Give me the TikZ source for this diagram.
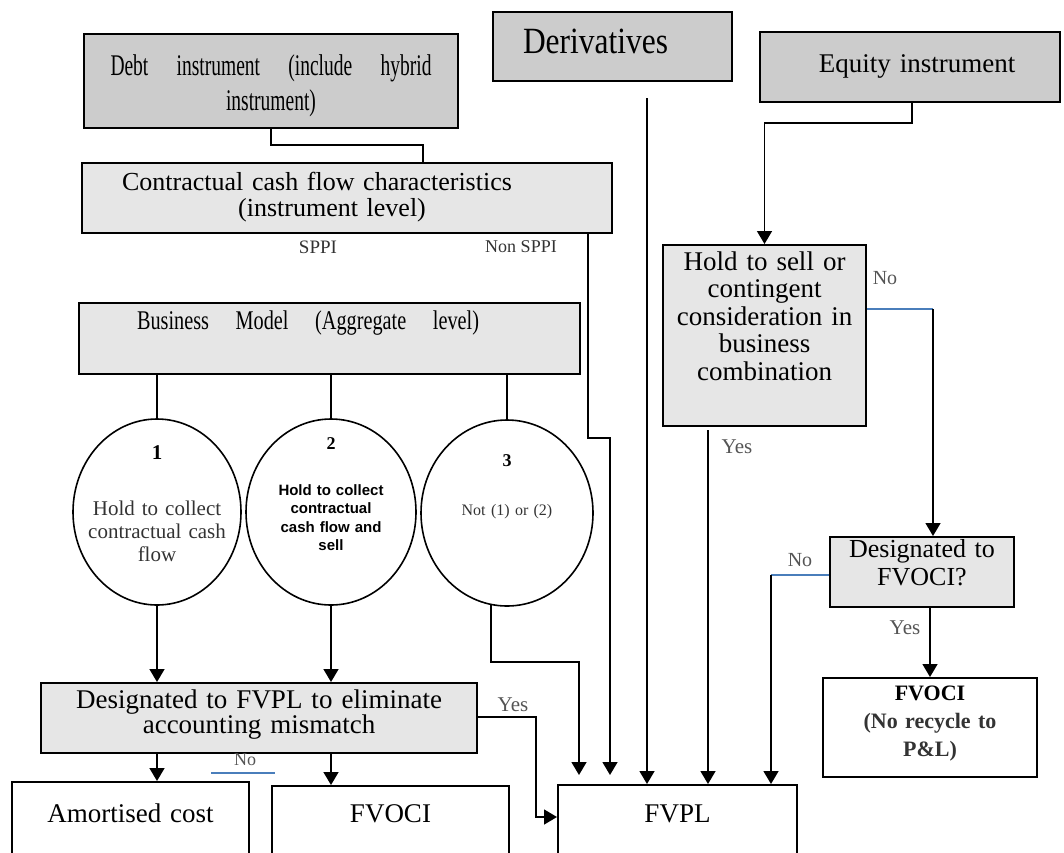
\documentclass[tikz,border=0pt]{standalone}
\usepackage{fontspec}
\usepackage{tikz}
\usetikzlibrary{arrows.meta,shapes.geometric}
\setmainfont{Liberation Serif}
\setsansfont{Liberation Sans}
\newfontfamily\narrowfont[FakeStretch=0.65]{Liberation Serif}
\newfontfamily\bizfont[FakeStretch=0.75]{Liberation Serif}
\newfontfamily\derivfont[FakeStretch=0.85]{Liberation Serif}
\newcommand{\setfs}[2]{\fontsize{#1pt}{#2pt}\selectfont}
\newcommand{\zw}[1]{\makebox[0pt]{#1}}
\definecolor{darkfill}{HTML}{CCCCCC}
\definecolor{lightfill}{HTML}{E6E6E6}
\definecolor{bluecol}{HTML}{4A7EBB}
\definecolor{labelgray}{HTML}{555555}
\definecolor{textgray}{HTML}{333333}

\begin{document}
\begin{tikzpicture}[x=1pt, y=-1pt,
  darkbox/.style={draw, line width=2pt, fill=darkfill, inner sep=0pt, align=center},
  lightbox/.style={draw, line width=2pt, fill=lightfill, inner sep=0pt, align=center},
  whitebox/.style={draw, line width=2pt, fill=white, inner sep=0pt, align=center},
  bubble/.style={draw, ellipse, line width=1.6pt, inner sep=0pt, align=center, text width=100pt, minimum height=186pt, text height=0pt},
  lbl/.style={text=labelgray, inner sep=1pt},
  ln/.style={line width=1.5pt},
  arr/.style={line width=1.5pt, -{Triangle[width=15pt,length=13pt]}},
  blueln/.style={line width=1.3pt, draw=bluecol}]
\useasboundingbox (0,0) rectangle (1064,852);

\node[darkbox, minimum width=374pt, minimum height=94pt, text width=374pt, text height=0pt, text depth=12pt, font=\narrowfont\setfs{30}{35}] (debt) at (271,81)
  {\hbox to 321pt{Debt\hfil instrument\hfil (include\hfil hybrid}\\instrument)};
\node[darkbox, minimum width=239pt, minimum height=69pt, text width=239pt, align=left, text height=13pt, text depth=0pt, font=\derivfont\setfs{37}{40}] (deriv) at (612.5,46.5)
  {\hspace*{30pt}Derivatives};
\node[darkbox, minimum width=300pt, minimum height=70pt, text width=300pt, text height=10pt, text depth=0pt, font=\setfs{27}{30}] (equity) at (910,67)
  {\hspace*{14pt}Equity instrument};
\node[lightbox, minimum width=530pt, minimum height=70pt, text width=530pt, text height=0pt, text depth=14.6pt, font=\setfs{26}{26}] (contract) at (347,198)
  {\hspace*{-60pt}Contractual cash flow characteristics\\\hspace*{-30pt}(instrument level)};
\node[lbl, text=textgray, font=\setfs{19}{20}] (sppi) at (318,247) {SPPI};
\node[lbl, text=textgray, font=\setfs{18}{20}] (nonsppi) at (521,247) {Non SPPI};
\node[lightbox, minimum width=501pt, minimum height=71pt, text width=501pt, text height=0pt, text depth=19pt, font=\bizfont\setfs{27}{30}] (business) at (329.5,338.5)
  {\hspace*{-43pt}\hbox to 342pt{Business\hfil Model\hfil (Aggregate\hfil level)}};

\node[bubble, minimum width=168pt, text depth=106pt, text=textgray, font=\setfs{21}{23}] (c1) at (157,512)
  {\zw{\bfseries\color{black}1}\\[33pt]\zw{Hold to collect}\\\zw{contractual cash}\\\zw{flow}};
\node[bubble, minimum width=170pt, text depth=126pt, font=\sffamily\bfseries\setfs{15}{18.5}] (c2) at (331,512)
  {\zw{\rmfamily\setfs{18}{18.5}2}\\[27.5pt]\zw{Hold to collect}\\\zw{contractual}\\\zw{cash flow and}\\\zw{sell}};
\node[bubble, minimum width=172pt, text depth=94pt, text=textgray, font=\setfs{16}{18}] (c3) at (507,513)
  {\zw{\bfseries\color{black}\setfs{18}{18}3}\\[31pt]\zw{Not (1) or (2)}};

\node[lightbox, minimum width=203pt, minimum height=181pt, text width=203pt, text height=0pt, text depth=131pt, font=\setfs{27}{27.5}] (hold) at (764.5,335.5)
  {Hold to sell or\\contingent\\consideration in\\business\\combination};
\node[lbl, font=\setfs{20}{20}] (noh) at (885,278) {No};
\node[lbl, font=\setfs{21}{21}] (yesh) at (737,447) {Yes};
\node[lightbox, minimum width=184pt, minimum height=70pt, text width=184pt, text height=0pt, text depth=30pt, font=\setfs{26}{28}] (dfvoci) at (922,572)
  {Designated to\\FVOCI?};
\node[lbl, font=\setfs{20}{20}] (nod) at (800,560) {No};
\node[lbl, font=\setfs{21}{21}] (yesd) at (905,628) {Yes};
\node[whitebox, minimum width=214pt, minimum height=99pt, text width=214pt, text height=0pt, text depth=55pt, text=textgray, font=\bfseries\setfs{22}{28}] (fvoci2) at (930,727.5)
  {{\color{black}FVOCI}\\(No recycle to\\P\&L)};

\node[lightbox, minimum width=436pt, minimum height=70pt, text width=436pt, text height=0pt, text depth=20pt, font=\setfs{27}{24}] (dfvpl) at (259,718)
  {Designated to FVPL to eliminate\\accounting mismatch};
\node[lbl, font=\setfs{21}{21}] (yesp) at (513,705) {Yes};
\node[lbl, font=\setfs{18}{18}] (nop) at (245,760) {No};
\node[whitebox, minimum width=237pt, minimum height=100pt, text width=237pt, text height=0pt, text depth=20pt, font=\setfs{27}{30}] (amort) at (130.5,832) {Amortised cost};
\node[whitebox, minimum width=237pt, minimum height=100pt, text width=237pt, text height=0pt, text depth=28pt, font=\setfs{27}{30}] (fvoci) at (390.5,836) {FVOCI};
\node[whitebox, minimum width=239pt, minimum height=100pt, text width=239pt, text height=0pt, text depth=26pt, font=\setfs{27}{30}] (fvpl) at (677.5,835) {FVPL};

\coordinate (k1) at (271,145);
\coordinate (k2) at (423,145);
\coordinate (e1) at (912,123);
\coordinate (p1) at (579,662);
\coordinate (s1) at (588,438);
\coordinate (s2) at (610,438);
\coordinate (dv) at (647,98);
\coordinate (hy) at (708,430);
\coordinate (hn) at (933,309);
\coordinate (fn) at (771,575);
\coordinate (y1) at (536,717);
\coordinate (y2) at (536,817);

\draw[ln] (debt.south) -- (k1) -- (k2) -- (k2 |- contract.north);
\draw[arr] (e1 |- equity.south) -- (e1) -| (hold.north);
\draw[ln] (c1.north) -- (c1.north |- business.south);
\draw[ln] (c2.north) -- (c2.north |- business.south);
\draw[ln] (c3.north) -- (c3.north |- business.south);
\draw[arr] (c1.south) -- (c1.south |- dfvpl.north);
\draw[arr] (c2.south) -- (c2.south |- dfvpl.north);
\draw[arr, shorten >=9pt] (c3.260) -- (c3.260 |- p1) -- (p1) -- (p1 |- fvpl.north);
\draw[arr, shorten >=9pt] (s1 |- contract.south) -- (s1) -- (s2) -- (s2 |- fvpl.north);
\draw[arr] (dv) -- (dv |- fvpl.north);
\draw[arr] (hy) -- (hy |- fvpl.north);
\draw[blueln] (hn -| hold.east) -- (hn);
\draw[arr] (hn) -- (hn |- dfvoci.north);
\draw[blueln] (fn -| dfvoci.west) -- (fn);
\draw[arr] (fn) -- (fn |- fvpl.north);
\draw[arr] (fvoci2.north |- dfvoci.south) -- (fvoci2.north);
\draw[arr] (c1.south |- dfvpl.south) -- (c1.south |- amort.north);
\draw[arr] (c2.south |- dfvpl.south) -- (c2.south |- fvoci.north);
\draw[arr] (y1 -| dfvpl.east) -- (y1) -- (y2) -- (y2 -| fvpl.west);
\draw[blueln] (211,773) -- (275,773);
\end{tikzpicture}
\end{document}
